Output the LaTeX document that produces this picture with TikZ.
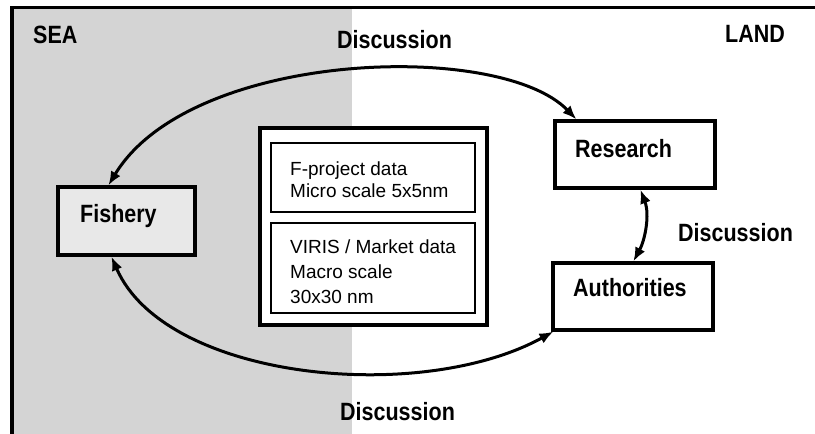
\documentclass[tikz,border=0pt]{standalone}
\usepackage{fontspec}
\setmainfont{Liberation Sans}
\newfontfamily\lblfont[FakeStretch=0.86]{Liberation Sans}
\usetikzlibrary{arrows.meta}
\begin{document}
\begin{tikzpicture}[x=1pt,y=-1pt,
  lbl/.style={font=\lblfont\bfseries\fontsize{25}{29}\selectfont, inner sep=0pt, anchor=base west},
  txt/.style={font=\fontsize{19}{24}\selectfont, inner sep=0pt, anchor=base west},
  box/.style={draw, line width=3.2pt, inner sep=0pt, fill=white},
  databox/.style={draw, line width=2.2pt, fill=white, inner sep=0pt},
  conn/.style={line width=3pt, {Latex[length=14pt,width=11pt]}-{Latex[length=14pt,width=11pt]}}
]
\useasboundingbox (0,0) rectangle (815,434);
% sea area
\fill[black!17] (12,8) rectangle (352,434);
% frame
\draw[line width=3.2pt] (12,434) -- (12,7.5) -- (815,7.5);

% boxes
\node[box, fill=black!9, minimum width=137pt, minimum height=68pt] (fishbox) at (126.5,221) {};
\node[box, minimum width=160pt, minimum height=67pt] (resbox) at (635,154.5) {};
\node[box, minimum width=160pt, minimum height=67pt] (authbox) at (633,296.5) {};
\node[box, minimum width=227pt, minimum height=197pt] (databox) at (373.5,226.5) {};
\node[databox, minimum width=204pt, minimum height=69pt] (microbox) at (373,177.5) {};
\node[databox, minimum width=204pt, minimum height=90pt] (macrobox) at (373,268) {};

% labels
\node[lbl] (sea) at (33,43) {SEA};
\node[lbl] (land) at (725,42) {LAND};
\node[lbl] (disctop) at (337,48) {Discussion};
\node[lbl] (discright) at (678,241) {Discussion};
\node[lbl] (discbot) at (340,420) {Discussion};
\node[lbl] (fishtxt) at (80,222) {Fishery};
\node[lbl] (restxt) at (575,157) {Research};
\node[lbl] (authtxt) at (573,296) {Authorities};

% data texts
\node[txt] (m1) at (290,175) {F-project data};
\node[txt] (m2) at (290,197) {Micro scale 5x5nm};
\node[txt] (n1) at (290,253) {VIRIS / Market data};
\node[txt] (n2) at (290,278) {Macro scale};
\node[txt] (n3) at (290,303) {30x30 nm};

% connectors
\draw[conn] ([xshift=52pt]fishbox.north west) .. controls (190,50) and (500,40) .. ([xshift=23pt]resbox.north west);
\draw[conn] ([xshift=55pt]fishbox.south west) .. controls (165,380) and (420,405) .. ([xshift=2pt]authbox.south west);
\draw[conn] ([xshift=87pt]resbox.south west) .. controls (650,215) and (645,240) .. ([xshift=82pt]authbox.north west);
\end{tikzpicture}
\end{document}
